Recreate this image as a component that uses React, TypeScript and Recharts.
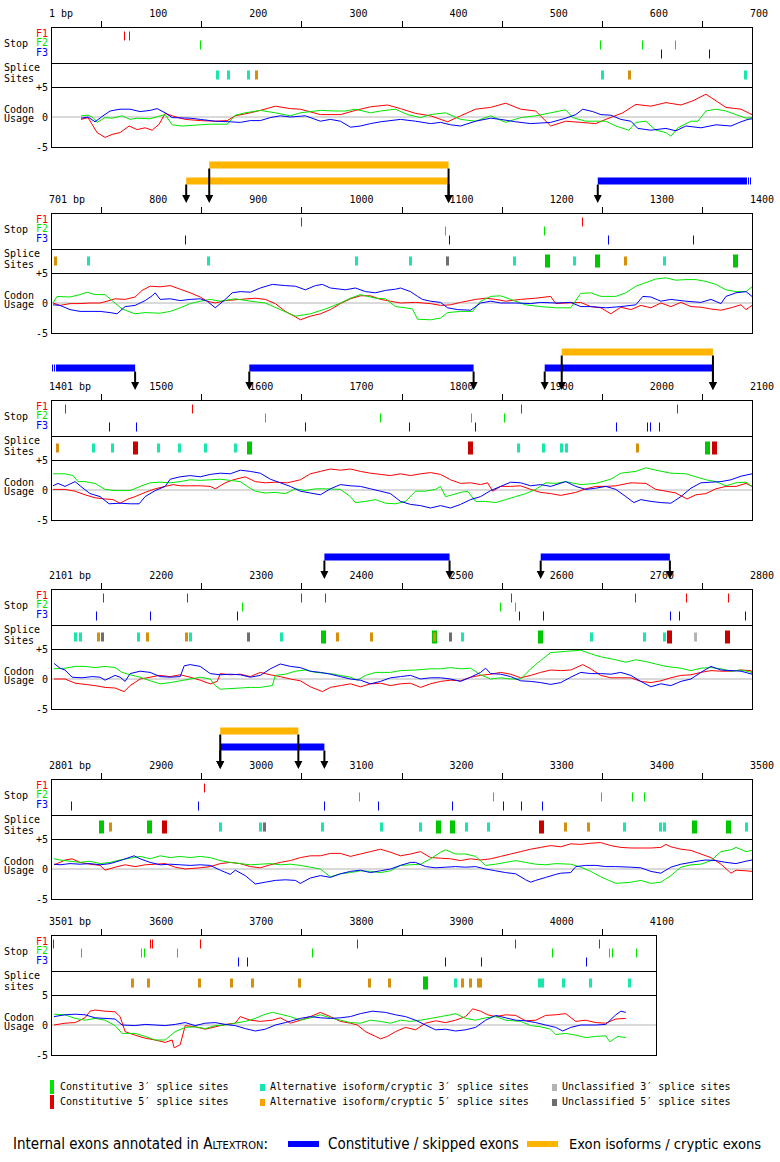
import React from 'react';
import { ComposedChart, Line, Scatter, XAxis, YAxis, ReferenceLine, ReferenceArea } from 'recharts';

const MONO = '"DejaVu Sans Mono", "Liberation Mono", monospace';

// ---------- stop codons (bp), per reading frame ----------
const p1StopF1 = [73, 78];
const p1StopF2 = [149, 548, 590, 623];
const p1StopF3 = [609, 657];
const p2StopF1 = [950, 1230];
const p2StopF2 = [1093, 1192];
const p2StopF3 = [834, 1097, 1256, 1341];
const p3StopF1 = [1414, 1541, 1869, 2025];
const p3StopF2 = [1614, 1729, 1819, 1852];
const p3StopF3 = [1458, 1485, 1654, 1757, 1823, 1964, 1995, 1998, 2007];
const p4StopF1 = [2152, 2236, 2350, 2374, 2559, 2683, 2734, 2776];
const p4StopF2 = [2291, 2548, 2563];
const p4StopF3 = [2145, 2199, 2286, 2567, 2591, 2718, 2727, 2793];
const p5StopF1 = [2953];
const p5StopF2 = [3108, 3241, 3349, 3380, 3392];
const p5StopF3 = [2820, 2947, 3073, 3127, 3200, 3251, 3269, 3290];
const p6StopF1 = [3502, 3599, 3601, 3649, 3806, 3963, 4047];
const p6StopF2 = [3530, 3590, 3593, 3626, 3761, 4000, 4057, 4060, 4084];
const p6StopF3 = [3687, 3696, 3893, 3929, 4034];

// ---------- splice sites [bp, type] ----------
// c3/c5 constitutive, a3/a5 alternative isoform/cryptic, u3/u5 unclassified
const p1Splice = [[166, 'a3'], [177, 'a3'], [197, 'a3'], [205, 'a5'], [550, 'a3'], [577, 'a5'], [693, 'a3']];
const p2Splice = [[704, 'a5'], [737, 'a3'], [857, 'a3'], [1005, 'a3'], [1058, 'a3'], [1095, 'u5'], [1162, 'a3'], [1195, 'c3'], [1222, 'a3'], [1245, 'c3'], [1273, 'a5'], [1312, 'a3'], [1383, 'c3']];
const p3Splice = [[1406, 'a5'], [1442, 'a3'], [1461, 'a3'], [1484, 'c5'], [1507, 'a3'], [1528, 'a3'], [1554, 'a3'], [1584, 'a3'], [1598, 'c3'], [1818, 'c5'], [1866, 'a3'], [1891, 'a3'], [1909, 'a3'], [1914, 'a3'], [1985, 'a5'], [2055, 'c3'], [2062, 'c5']];
const p4Splice = [[2124, 'a3'], [2129, 'a3'], [2147, 'a5'], [2151, 'u5'], [2187, 'a3'], [2196, 'a5'], [2235, 'a5'], [2239, 'a3'], [2297, 'u5'], [2330, 'a3'], [2372, 'c3'], [2386, 'a5'], [2420, 'a5'], [2482, 'c3'], [2482, 'a5'], [2498, 'u5'], [2510, 'a3'], [2588, 'c3'], [2639, 'a3'], [2692, 'a3'], [2712, 'a3'], [2717, 'c5'], [2743, 'u3'], [2775, 'c5']];
const p5Splice = [[2850, 'c3'], [2859, 'a5'], [2898, 'c3'], [2913, 'c5'], [2969, 'a3'], [3009, 'a3'], [3013, 'u5'], [3071, 'a3'], [3130, 'a3'], [3168, 'a3'], [3186, 'c3'], [3200, 'c3'], [3214, 'a3'], [3236, 'a3'], [3289, 'c5'], [3313, 'a5'], [3336, 'a5'], [3372, 'a3'], [3408, 'a3'], [3412, 'a3'], [3442, 'c3'], [3476, 'c3'], [3494, 'a3']];
const p6Splice = [[3581, 'a5'], [3597, 'a5'], [3648, 'a5'], [3680, 'a5'], [3701, 'a5'], [3748, 'a5'], [3818, 'a5'], [3838, 'a5'], [3873, 'c3'], [3903, 'a3'], [3910, 'a5'], [3918, 'a5'], [3926, 'a5'], [3928, 'a5'], [3987, 'a3'], [3990, 'a3'], [4011, 'a3'], [4038, 'a3'], [4077, 'a3']];

// ---------- internal exons [from, to, kind, row, continued] ----------
const p2Exons = [[858, 1097, 'iso', 2, ''], [835, 1097, 'iso', 1, ''], [1246, 1400, 'const', 1, 'R']];
const p3Exons = [[1400, 1484, 'const', 1, 'L'], [1598, 1822, 'const', 1, ''], [1893, 2061, 'const', 1, ''], [1910, 2061, 'iso', 2, '']];
const p4Exons = [[2373, 2498, 'const', 1, ''], [2589, 2718, 'const', 1, '']];
const p5Exons = [[2969, 3047, 'iso', 2, ''], [2969, 3073, 'const', 1, '']];

// ---------- codon usage [bp, score] ----------
const p1Red = [[30,-0.4],[37,-0.1],[46,-2.6],[54,-3.4],[61,-2.9],[69,-2.6],[78,-1.5],[86,-2.1],[94,-1.8],[101,-2.2],[108,-1.2],[114,0.6],[121,0.2],[134,-0.4],[149,-0.6],[164,-0.7],[176,-0.6],[184,0.2],[199,0.7],[209,1.1],[224,1.8],[239,1.4],[249,1.3],[269,0.4],[289,0.4],[304,1.1],[319,1.7],[336,2.0],[349,1.4],[364,0.6],[379,0.2],[396,-0.8],[409,0.2],[424,1.3],[439,1.6],[454,2.3],[469,1.3],[484,1.0],[499,-1.5],[514,-0.7],[529,-0.9],[544,-1.1],[554,-0.4],[571,0.7],[584,2.1],[599,1.8],[614,2.4],[629,2.0],[641,2.7],[654,3.8],[664,2.7],[674,1.6],[689,1.3],[700,0.4]];
const p1Green = [[30,0.2],[37,0.3],[42,-0.1],[46,-0.9],[54,-0.1],[61,-0.2],[71,0.2],[79,-0.4],[86,-0.2],[99,-0.3],[109,0.2],[114,0.4],[121,-1.3],[131,-1.5],[149,-1.3],[159,-1.2],[176,-1.2],[184,0.3],[194,0.7],[209,1.1],[224,0.7],[239,0.2],[249,0.7],[269,1.1],[284,1.0],[294,1.0],[304,1.3],[319,0.7],[329,1.0],[344,1.3],[356,0.4],[369,-0.1],[379,0.4],[394,0.7],[409,-0.4],[424,-0.7],[439,0.2],[454,-0.9],[469,-0.1],[484,0.2],[499,0.7],[514,1.2],[521,-0.1],[534,-0.7],[554,-0.7],[564,-1.5],[577,-2.2],[584,-0.9],[594,-0.7],[604,-2.2],[614,-2.6],[619,-3.2],[626,-1.8],[639,-0.7],[646,-0.7],[654,1.0],[664,1.3],[674,1.0],[684,0.4],[694,-0.2],[700,-0.1]];
const p1Blue = [[30,-0.2],[37,0],[44,-0.8],[52,0.2],[59,1.0],[69,1.3],[79,1.3],[89,0.9],[99,1.1],[106,1.4],[114,0.7],[121,-0.1],[139,-0.2],[149,-0.4],[164,-0.7],[179,-0.8],[189,-0.9],[199,-0.6],[209,-0.6],[219,-0.1],[229,0.2],[239,0],[254,0.2],[269,-0.7],[279,-0.4],[289,-0.7],[299,-1.7],[309,-1.5],[319,-1.1],[329,-0.8],[349,-0.4],[364,-0.7],[379,-1.1],[389,-0.9],[399,-1.3],[409,-1.5],[424,-0.7],[439,-0.2],[449,-0.4],[464,-0.8],[479,-1.1],[499,-0.9],[514,-0.2],[524,0.4],[531,1.3],[541,0.9],[549,0.4],[559,0.3],[569,-0.4],[579,-0.7],[586,-1.9],[599,-2.2],[614,-1.9],[624,-2.3],[634,-1.5],[649,-1.8],[664,-1.3],[679,-1.5],[689,-0.8],[696,-0.4],[700,-0.3]];

const p2Red = [[702,0],[709,-0.4],[719,-0.1],[729,-0.1],[739,0],[749,0],[756,0.3],[764,0.7],[774,0.6],[784,1.0],[791,2.1],[799,2.8],[809,2.7],[819,2.9],[829,2.3],[839,1.7],[849,1.0],[856,0.3],[864,0],[874,0.4],[889,0.6],[904,0.8],[914,0.6],[924,-0.1],[934,-1.4],[944,-2.3],[949,-2.8],[959,-2.2],[969,-1.8],[979,-1.1],[989,-0.1],[999,0.7],[1009,1.2],[1019,1.2],[1029,0.6],[1039,0.3],[1049,0],[1064,0.1],[1079,-0.1],[1089,-0.4],[1099,-0.3],[1109,0.1],[1124,0.6],[1134,0.8],[1144,0.6],[1154,0.3],[1169,0.6],[1184,0.8],[1199,1.1],[1204,-0.1],[1214,0],[1229,0.1],[1239,-0.6],[1249,-0.8],[1259,-1.8],[1269,-0.7],[1279,-1.1],[1289,-0.4],[1299,-0.8],[1309,0],[1319,-0.6],[1329,0.1],[1339,-0.6],[1349,-0.7],[1359,-1.0],[1369,-1.2],[1379,-0.8],[1389,-0.3],[1394,-1.1],[1400,-0.4]];
const p2Green = [[702,0],[706,1.1],[719,1.0],[729,1.4],[736,1.8],[744,1.4],[754,1.4],[761,0.4],[771,-1.0],[784,-1.8],[794,-1.6],[809,-1.7],[819,-1.4],[829,-0.8],[839,-0.1],[849,0.3],[859,0.6],[869,0.3],[884,0.7],[899,0.3],[914,0],[929,-1.1],[944,-2.2],[959,-1.8],[974,-1.0],[989,0],[999,0.8],[1009,1.4],[1024,0.8],[1034,0.7],[1044,-0.6],[1054,-0.8],[1061,-1.0],[1066,-2.7],[1079,-2.8],[1089,-2.5],[1096,-1.6],[1109,-1.4],[1121,-1.4],[1129,0.3],[1139,1.1],[1149,1.2],[1159,0.6],[1174,-0.3],[1189,-0.6],[1204,-0.8],[1219,-0.8],[1229,1.6],[1239,1.7],[1249,1.1],[1264,1.1],[1274,1.7],[1284,2.8],[1294,3.4],[1304,4.0],[1314,4.2],[1324,3.8],[1334,3.9],[1344,3.9],[1354,3.6],[1364,3.1],[1374,2.2],[1384,1.9],[1394,1.9],[1400,2.7]];
const p2Blue = [[702,-0.3],[709,-0.4],[719,-1.1],[729,-1.4],[739,-1.4],[749,-1.4],[759,-1.6],[766,-1.8],[774,-0.6],[784,-0.4],[794,0.4],[801,1.2],[804,1.7],[809,0.6],[819,0.7],[829,0.4],[839,0.6],[849,0.7],[856,0.3],[864,-0.8],[874,0.6],[881,1.7],[889,1.9],[899,1.8],[909,2.5],[921,3.1],[934,2.9],[944,2.8],[954,2.2],[964,2.9],[971,3.1],[979,2.5],[994,2.2],[1004,2.5],[1014,1.9],[1024,1.7],[1034,2.1],[1044,2.3],[1049,2.5],[1059,1.9],[1066,1.1],[1071,0.6],[1079,0.3],[1089,0.1],[1096,-0.8],[1106,-1.1],[1119,-1.2],[1129,0],[1139,0.3],[1149,0],[1164,0],[1179,-0.1],[1189,0.1],[1204,0],[1219,0.1],[1229,-0.6],[1239,-0.6],[1254,-0.8],[1269,-0.6],[1284,-0.3],[1291,1.1],[1299,1.0],[1309,0.3],[1319,0.6],[1334,0.3],[1349,0.1],[1359,0.6],[1369,-0.1],[1374,1.1],[1384,1.7],[1394,1.9],[1400,1.1]];

const p3Red = [[1402,0.1],[1414,0.1],[1424,-0.2],[1434,-0.8],[1444,-1.3],[1454,-1.5],[1462,-1.6],[1469,-2.2],[1477,-1.5],[1484,-1.1],[1494,-0.4],[1504,0.2],[1514,0.6],[1522,0.9],[1529,0.7],[1539,0.7],[1549,0.7],[1559,0.6],[1564,0.2],[1574,1.2],[1582,1.7],[1594,2.2],[1604,1.4],[1614,1.2],[1624,1.3],[1636,1.2],[1649,1.7],[1659,2.7],[1669,3.1],[1679,3.5],[1689,3.3],[1699,3.5],[1709,3.1],[1719,2.8],[1729,2.6],[1739,2.4],[1749,2.7],[1759,2.4],[1769,2.7],[1779,2.9],[1789,2.6],[1799,1.7],[1809,1.1],[1819,1.2],[1829,0.9],[1836,1.2],[1841,-0.2],[1849,0.6],[1859,0.6],[1869,0.7],[1879,0.1],[1889,-0.4],[1899,-0.6],[1909,-0.9],[1924,-0.4],[1934,0.2],[1944,0.6],[1954,0.6],[1964,0.7],[1979,1.2],[1994,1.1],[2004,0.1],[2014,-0.2],[2024,-0.5],[2035,-1.5],[2044,-0.8],[2054,-0.6],[2064,0.2],[2074,0.6],[2084,0.6],[2094,1.1],[2100,0.6]];
const p3Green = [[1402,2.7],[1414,2.7],[1422,2.4],[1427,1.4],[1434,1.4],[1444,1.1],[1454,0.1],[1464,-0.1],[1479,-0.1],[1489,0.6],[1499,1.2],[1509,1.3],[1519,1.2],[1529,1.4],[1539,1.7],[1549,1.6],[1559,1.7],[1569,1.8],[1579,1.6],[1589,1.4],[1596,0.6],[1604,-0.2],[1614,-0.5],[1624,-0.4],[1634,-0.6],[1644,0.2],[1654,-0.1],[1664,0.2],[1674,0.2],[1689,0.1],[1699,-1.1],[1704,-2.1],[1714,-1.9],[1724,-1.6],[1734,-2.2],[1744,-2.3],[1754,-1.9],[1764,-0.2],[1774,-0.2],[1784,0.1],[1789,0.6],[1794,-1.1],[1801,-0.8],[1809,-0.4],[1816,-0.2],[1824,-1.9],[1834,-1.9],[1844,-2.1],[1854,-1.6],[1864,-1.1],[1874,-0.6],[1884,0.1],[1894,1.2],[1904,1.1],[1914,1.4],[1929,0.9],[1944,1.1],[1959,1.8],[1969,2.8],[1984,3.1],[1994,3.7],[2004,3.3],[2019,2.8],[2034,2.7],[2044,2.2],[2054,1.7],[2064,1.4],[2074,0.7],[2084,1.2],[2094,1.3],[2100,0.6]];
const p3Blue = [[1402,0.7],[1407,1.1],[1414,0.6],[1424,1.4],[1432,0.3],[1439,-0.6],[1449,-1.1],[1458,-2.3],[1469,-2.2],[1479,-2.3],[1488,-2.3],[1494,-1.1],[1504,-0.1],[1514,0.6],[1519,1.8],[1529,2.2],[1539,2.4],[1549,2.2],[1559,2.6],[1569,2.8],[1579,2.7],[1589,3.3],[1599,3.1],[1609,2.8],[1619,1.8],[1629,1.2],[1639,0.6],[1649,-0.2],[1659,-0.5],[1669,-0.8],[1679,0.2],[1689,0.9],[1699,0.7],[1709,0.6],[1719,0.2],[1729,-0.2],[1739,-0.6],[1749,-1.9],[1759,-2.4],[1769,-2.6],[1779,-3.0],[1789,-2.6],[1799,-3.0],[1809,-2.4],[1819,-1.6],[1829,-1.1],[1839,-0.1],[1849,0.6],[1859,1.3],[1869,1.2],[1879,0.7],[1889,0.9],[1899,0.6],[1914,1.4],[1924,0.6],[1934,0.1],[1944,0.3],[1954,0.6],[1964,0.1],[1974,-1.1],[1982,-2.1],[1989,-1.6],[1999,-1.9],[2009,-2.1],[2019,-2.2],[2029,-1.1],[2039,0.3],[2049,1.2],[2059,1.3],[2069,1.4],[2079,1.7],[2089,2.3],[2100,2.7]];

const p4Red = [[2103,0],[2114,0],[2124,-0.7],[2134,-0.9],[2144,-1.1],[2154,-1.4],[2164,-1.5],[2173,-2.1],[2179,-1.1],[2189,0],[2199,0.3],[2208,0.6],[2219,0.4],[2229,0.7],[2239,0.3],[2249,-0.2],[2259,-0.8],[2266,-0.4],[2269,0.9],[2279,0.7],[2289,0.8],[2299,0.4],[2309,1.1],[2319,0.7],[2329,0.4],[2339,0],[2349,-0.3],[2359,-1.3],[2371,-2.1],[2379,-1.4],[2389,-1.1],[2399,-0.8],[2409,-1.3],[2419,-0.8],[2429,-0.7],[2439,-1.1],[2449,-0.8],[2459,-0.7],[2469,-1.4],[2479,-0.8],[2489,-0.4],[2499,-0.2],[2509,-0.3],[2519,0.3],[2529,0.6],[2539,0.8],[2549,1.1],[2559,0.8],[2569,0.2],[2579,0.6],[2589,1.1],[2599,1.5],[2609,1.4],[2619,1.5],[2631,2.4],[2639,1.7],[2649,0.6],[2659,0.2],[2669,0.2],[2679,0.2],[2689,-0.4],[2699,-0.6],[2709,-0.3],[2719,0.2],[2729,0.6],[2739,0.7],[2749,1.1],[2759,1.4],[2769,1.3],[2779,1.3],[2789,1.5],[2799,1.4],[2800,0.9]];
const p4Green = [[2103,1.7],[2114,1.8],[2124,2.1],[2134,2.1],[2144,1.9],[2154,2.1],[2164,1.9],[2171,1.1],[2179,0.7],[2189,0.3],[2199,-0.3],[2209,-0.8],[2219,-0.6],[2229,-0.3],[2239,0],[2249,0.3],[2259,0],[2264,-1.1],[2269,-1.7],[2289,-1.5],[2299,-1.4],[2309,-1.4],[2321,-1.1],[2324,0.6],[2334,0.8],[2344,1.3],[2354,1.5],[2364,1.1],[2379,0.9],[2389,0.6],[2399,0.3],[2406,-0.2],[2414,0.6],[2424,1.1],[2439,1.1],[2449,1.4],[2464,1.5],[2479,1.7],[2489,1.7],[2499,1.9],[2509,1.7],[2519,1.8],[2529,0.7],[2539,0],[2549,0.2],[2559,0],[2569,0],[2579,1.7],[2589,3.1],[2599,4.4],[2614,4.6],[2629,4.8],[2639,4.2],[2649,3.7],[2664,3.2],[2674,2.8],[2684,3.2],[2694,2.9],[2704,2.5],[2714,2.1],[2729,1.8],[2739,1.4],[2749,1.8],[2759,1.9],[2769,1.7],[2779,1.3],[2789,1.5],[2800,1.1]];
const p4Blue = [[2103,2.6],[2109,1.8],[2114,1.5],[2121,0.3],[2131,0.2],[2141,0.4],[2149,0.3],[2154,-0.2],[2164,0.6],[2169,0.3],[2174,-0.4],[2179,0.9],[2189,1.3],[2199,1.1],[2209,0.4],[2219,0.3],[2229,0.4],[2233,2.2],[2239,2.4],[2249,2.1],[2259,0.9],[2269,0.7],[2279,0.8],[2289,0.7],[2299,0.3],[2309,0.6],[2319,1.7],[2329,2.5],[2339,2.1],[2349,1.9],[2359,1.3],[2369,1.1],[2379,0.8],[2389,0.4],[2399,0],[2409,-0.2],[2419,-0.8],[2429,-0.4],[2439,0.2],[2449,0.4],[2459,0.6],[2469,0],[2479,0.2],[2489,0.2],[2499,0],[2509,-0.4],[2519,0.3],[2529,1.1],[2534,1.8],[2539,0.9],[2549,0.8],[2559,0.4],[2569,-0.3],[2579,-0.4],[2589,-0.6],[2599,-0.9],[2609,-0.6],[2619,0.3],[2629,1.1],[2639,0.9],[2649,0.9],[2659,0.8],[2669,1.1],[2679,0.6],[2689,-0.4],[2699,-1.3],[2709,-0.8],[2719,-1.1],[2729,-0.4],[2739,0],[2749,1.1],[2759,2.1],[2769,1.5],[2779,1.4],[2789,1.3],[2800,0.8]];

const p5Red = [[2803,0.7],[2809,1.1],[2814,1.5],[2821,1.7],[2829,1.1],[2839,0.8],[2849,0.6],[2854,-0.2],[2864,0.3],[2874,0.7],[2884,0.4],[2894,0.7],[2904,0.8],[2914,0.9],[2924,0.3],[2934,0],[2949,0.2],[2959,0.4],[2969,0.9],[2979,1.1],[2989,0.9],[2999,0.4],[3009,0.2],[3019,0.7],[3029,1.1],[3039,1.4],[3049,1.9],[3059,2.2],[3069,2.2],[3079,2.6],[3089,2.6],[3099,2.1],[3109,2.5],[3119,2.9],[3129,3.3],[3139,2.8],[3149,2.2],[3159,2.5],[3169,2.9],[3179,1.9],[3189,1.8],[3199,1.7],[3209,1.4],[3219,1.7],[3229,1.5],[3239,1.7],[3249,2.1],[3259,2.5],[3269,2.9],[3279,3.3],[3289,3.6],[3299,3.9],[3309,3.7],[3319,4.2],[3329,4.1],[3339,4.3],[3349,4.4],[3359,3.9],[3369,3.6],[3379,3.5],[3389,3.5],[3399,3.5],[3409,3.6],[3414,4.1],[3419,3.7],[3429,3.3],[3439,3.1],[3449,2.5],[3459,1.9],[3469,0.8],[3479,-0.7],[3484,-0.2],[3494,-0.3],[3500,-0.4]];
const p5Green = [[2803,1.7],[2809,1.5],[2819,1.3],[2829,1.1],[2839,1.3],[2849,0.9],[2859,1.1],[2869,1.5],[2879,1.8],[2889,2.1],[2899,1.7],[2909,2.2],[2919,1.9],[2929,2.1],[2939,1.9],[2949,2.1],[2959,1.9],[2969,1.4],[2979,1.1],[2989,0.9],[2999,0.7],[3009,0.8],[3019,0.9],[3029,0.7],[3039,0.8],[3049,0.6],[3059,0.3],[3069,0],[3079,-1.3],[3089,-0.8],[3099,-0.6],[3109,-0.3],[3119,-0.4],[3129,-0.6],[3139,-0.3],[3149,0.6],[3159,0.7],[3169,0.8],[3179,1.7],[3189,2.8],[3194,3.2],[3204,2.5],[3214,2.5],[3224,2.1],[3234,0.6],[3244,0.8],[3254,1.1],[3264,1.4],[3274,1.1],[3284,0.8],[3294,0.7],[3304,0.9],[3319,0.8],[3329,0.3],[3339,-0.4],[3349,-1.3],[3364,-2.4],[3379,-2.2],[3389,-1.9],[3399,-2.4],[3409,-2.2],[3419,-1.1],[3429,0.3],[3439,0.7],[3449,0.8],[3459,1.4],[3469,2.9],[3479,3.2],[3484,3.6],[3494,2.9],[3500,3.1]];
const p5Blue = [[2803,0.8],[2809,0.7],[2819,0.9],[2829,0.8],[2839,0.9],[2849,0.7],[2859,0.9],[2869,1.4],[2883,2.2],[2889,1.7],[2899,1.1],[2909,0.7],[2919,0.8],[2929,0.7],[2939,0.6],[2949,0.7],[2959,0.6],[2969,-0.2],[2979,-0.9],[2984,-0.2],[2994,-1.1],[3004,-2.5],[3014,-2.2],[3024,-1.9],[3034,-1.8],[3044,-1.9],[3049,-2.4],[3059,-1.5],[3069,-1.1],[3079,-1.4],[3089,-0.8],[3099,-0.4],[3109,-0.2],[3119,-0.6],[3129,-0.3],[3139,0],[3149,0.6],[3159,1.1],[3164,1.1],[3174,0.4],[3184,0.2],[3194,0.3],[3204,0.4],[3214,0.3],[3224,0.4],[3234,0],[3244,-0.3],[3254,-0.6],[3264,-0.8],[3274,-1.8],[3279,-2.2],[3284,-1.9],[3294,-1.4],[3304,-0.9],[3309,-0.7],[3319,-0.6],[3324,0.4],[3334,0.6],[3344,0.6],[3354,0.4],[3364,0.4],[3379,0.3],[3389,0.2],[3399,-0.4],[3409,-0.7],[3419,0.3],[3429,0.8],[3439,1.1],[3449,1.4],[3454,1.5],[3464,1.4],[3474,1.1],[3484,0.9],[3494,1.3],[3500,1.5]];

const p6Red = [[3503,0],[3514,0.3],[3524,0.4],[3534,1.2],[3539,2.3],[3544,2.5],[3554,2.3],[3564,2.2],[3569,1.4],[3574,-1.1],[3584,-1.7],[3594,-2.2],[3604,-2.5],[3614,-2.9],[3621,-2.5],[3623,-3.8],[3629,-3.3],[3634,-0.1],[3644,-0.3],[3654,-0.7],[3664,-0.3],[3674,0.1],[3684,0.3],[3689,1.4],[3699,0.8],[3709,0.6],[3721,0.8],[3729,1.2],[3739,0.3],[3749,0.8],[3759,1.4],[3769,2.1],[3779,1.4],[3789,0.6],[3799,0.3],[3806,0],[3814,-1.1],[3824,-1.9],[3829,-2.3],[3836,-1.9],[3844,-1.1],[3854,-0.4],[3864,-0.8],[3874,0.3],[3884,0.7],[3894,0.4],[3904,0.8],[3914,1.4],[3921,2.7],[3929,2.3],[3936,1.7],[3944,1.4],[3954,1.7],[3964,1.6],[3974,0.7],[3984,0.8],[3994,1.6],[4004,1.7],[4014,1.9],[4024,0.6],[4034,0.8],[4044,0.4],[4054,0.3],[4064,1.0],[4074,1.1]];
const p6Green = [[3503,1.8],[3514,1.7],[3524,1.1],[3534,0.8],[3544,1.1],[3554,0.8],[3564,-0.1],[3571,-1.4],[3584,-1.4],[3594,-1.9],[3604,-2.5],[3614,-2.5],[3624,-1.1],[3634,-0.4],[3644,-0.3],[3654,-0.6],[3664,-0.1],[3674,0],[3684,0.3],[3694,0.6],[3704,1.1],[3714,1.8],[3721,2.1],[3729,1.8],[3739,1.4],[3749,0.8],[3759,1.2],[3769,1.7],[3779,1.2],[3789,0.8],[3799,0.4],[3809,0.3],[3819,0.8],[3829,0.6],[3839,0.3],[3849,0.8],[3859,0.6],[3869,0.8],[3879,1.1],[3889,1.4],[3899,1.7],[3904,1.9],[3914,1.1],[3924,0.8],[3934,1.2],[3944,1.4],[3954,0.8],[3969,0.6],[3979,-0.1],[3989,-0.3],[3999,-0.7],[4004,-1.6],[4014,-1.4],[4024,-1.7],[4034,-2.1],[4044,-1.9],[4054,-1.8],[4058,-2.8],[4066,-1.9],[4074,-2.1]];
const p6Blue = [[3503,1.4],[3514,1.7],[3524,1.8],[3534,1.7],[3544,1.2],[3554,1.1],[3564,1.0],[3571,0],[3584,-0.1],[3594,0.1],[3604,0],[3614,-0.1],[3624,0.1],[3634,0.4],[3644,-0.1],[3654,0.3],[3664,0.4],[3674,0.1],[3684,-0.1],[3694,-0.6],[3704,-1.0],[3714,-0.7],[3724,0],[3734,0.4],[3749,1.1],[3759,1.4],[3769,1.2],[3779,1.1],[3789,1.2],[3799,1.4],[3809,1.9],[3821,2.3],[3834,2.1],[3844,1.7],[3854,1.4],[3864,0.8],[3874,0],[3884,-0.8],[3894,-0.7],[3904,-1.0],[3914,-0.8],[3924,-0.4],[3934,0.8],[3944,1.6],[3954,1.2],[3964,0.8],[3974,0.7],[3984,0.4],[3994,0],[4004,-0.4],[4011,-1.0],[4019,-0.4],[4029,0],[4044,0],[4054,0.1],[4064,1.7],[4069,2.3],[4074,2.1]];

// ---------- layout ----------
const panels = [
  { id: 1, start: 0, end: 700, top: 27, stops: [p1StopF1, p1StopF2, p1StopF3], splice: p1Splice, exons: [], codon: [p1Red, p1Green, p1Blue] },
  { id: 2, start: 700, end: 1400, top: 213, stops: [p2StopF1, p2StopF2, p2StopF3], splice: p2Splice, exons: p2Exons, codon: [p2Red, p2Green, p2Blue] },
  { id: 3, start: 1400, end: 2100, top: 400, stops: [p3StopF1, p3StopF2, p3StopF3], splice: p3Splice, exons: p3Exons, codon: [p3Red, p3Green, p3Blue] },
  { id: 4, start: 2100, end: 2800, top: 589, stops: [p4StopF1, p4StopF2, p4StopF3], splice: p4Splice, exons: p4Exons, codon: [p4Red, p4Green, p4Blue] },
  { id: 5, start: 2800, end: 3500, top: 779, stops: [p5StopF1, p5StopF2, p5StopF3], splice: p5Splice, exons: p5Exons, codon: [p5Red, p5Green, p5Blue] },
  { id: 6, start: 3500, end: 4104, top: 935, stops: [p6StopF1, p6StopF2, p6StopF3], splice: p6Splice, exons: [], codon: [p6Red, p6Green, p6Blue], last: true },
];

const LEFT = 51;
const PAGE_W = 780;
const FRAME_COLORS = ['#ff0000', '#00e600', '#0000ff'];
const LINE_COLORS = ['#ff0000', '#00e600', '#0000ff'];
const SPLICE_STYLE: any = {
  c3: { fill: '#00c800', w: 5, h: 13 },
  c5: { fill: '#c80000', w: 5, h: 13 },
  a3: { fill: '#19e6aa', w: 3, h: 9 },
  a5: { fill: '#d78f0a', w: 3, h: 9 },
  u3: { fill: '#b4b4b4', w: 3, h: 9 },
  u5: { fill: '#6e6e6e', w: 3, h: 9 },
};
const EXON_COLORS: any = { const: '#0000ff', iso: '#ffb400' };
const ROW_Y: any = { 1: 32, 2: 48 };

const AxisTick = (props: any) => {
  const { x, y, payload, start } = props;
  const v = payload.value;
  if ((v - start) % 100 !== 0) {
    const xx = Math.round(x) + 0.5;
    return <line x1={xx} x2={xx} y1={y + 3} y2={y + 9} stroke="#000" strokeWidth={1} />;
  }
  const label = v === start ? `${v + 1} bp` : String(v);
  const w = label.length * 6.02;
  const left = Math.min(x - 2, 776 - w);
  return (
    <text x={left} y={y - 1} fontFamily={MONO} fontSize={10} fill="#000" textAnchor="start">
      {label}
    </text>
  );
};

const StopMark = (color: string) => (props: any) => {
  const xx = Math.round(props.cx) + 0.5;
  return <line x1={xx} x2={xx} y1={props.cy - 4.5} y2={props.cy + 4.5} stroke={color} strokeWidth={1} />;
};

const SpliceMark = (props: any) => {
  const s = SPLICE_STYLE[props.payload.t];
  return <rect x={Math.round(props.cx) - Math.floor(s.w / 2)} y={props.cy - s.h / 2} width={s.w} height={s.h} fill={s.fill} />;
};

const ArrowHead = (props: any) => (
  <polygon points={`${props.cx - 4},${props.cy - 8} ${props.cx + 4},${props.cy - 8} ${props.cx},${props.cy}`} fill="#000" />
);

function Panel({ p }: { p: any }) {
  const plotW = ((p.end - p.start) * 701) / 700;
  const right = PAGE_W - LEFT - plotW;
  const chartW = PAGE_W;
  const T = p.top;
  const ticks: number[] = [];
  for (let v = p.start; v <= p.end; v += 50) ticks.push(v);
  const xAxis = (
    <XAxis type="number" dataKey="x" domain={[p.start, p.end]} allowDataOverflow hide />
  );

  const arrows: any[] = [];
  p.exons.forEach(([from, to, , row, cont]: any) => {
    if (cont !== 'L') arrows.push({ x: from, y: 10, top: ROW_Y[row] - 3.5 });
    if (cont !== 'R') arrows.push({ x: to, y: 10, top: ROW_Y[row] - 3.5 });
  });

  const label = (text: string, left: number, cy: number, color = '#000') => (
    <div style={{ position: 'absolute', left, top: cy - 6, height: 12, lineHeight: '12px', fontFamily: MONO, fontSize: 10, color, whiteSpace: 'pre' }}>
      {text}
    </div>
  );

  return (
    <>
      {/* stop codons + position axis */}
      <div style={{ position: 'absolute', left: 0, top: T - 22 }}>
        <ComposedChart width={chartW} height={58} margin={{ top: 0, right, bottom: 0, left: LEFT }}>
          <XAxis
            type="number"
            dataKey="x"
            orientation="top"
            domain={[p.start, p.end]}
            allowDataOverflow
            ticks={ticks}
            interval={0}
            height={22}
            tickSize={6}
            tickMargin={3}
            axisLine={false}
            tickLine={false}
            tick={<AxisTick start={p.start} />}
          />
          <YAxis type="number" dataKey="y" domain={[0, 4]} reversed hide />
          {p.stops.map((arr: number[], i: number) => (
            <Scatter
              key={i}
              data={arr.map((x) => ({ x, y: i + 1 }))}
              shape={StopMark(FRAME_COLORS[i])}
              isAnimationActive={false}
            />
          ))}
        </ComposedChart>
      </div>

      {/* splice sites */}
      <div style={{ position: 'absolute', left: 0, top: T + 36 }}>
        <ComposedChart width={chartW} height={24} margin={{ top: 0, right, bottom: 0, left: LEFT }}>
          {xAxis}
          <YAxis type="number" dataKey="y" domain={[0, 1]} hide />
          <Scatter data={p.splice.map(([x, t]: any) => ({ x, y: 0.5, t }))} shape={SpliceMark} isAnimationActive={false} />
        </ComposedChart>
      </div>

      {/* codon usage */}
      <div style={{ position: 'absolute', left: 0, top: T + 52 }}>
        <ComposedChart width={chartW} height={76} margin={{ top: 8, right, bottom: 8, left: 0 }}>
          {xAxis}
          <YAxis
            type="number"
            domain={[-5, 5]}
            ticks={[5, 0, -5]}
            width={LEFT}
            tickSize={0}
            tickMargin={3}
            axisLine={false}
            tickLine={false}
            tickFormatter={(v: number) => (v > 0 ? (p.last ? '5' : '+5') : String(v))}
            tick={{ fontFamily: MONO, fontSize: 10, fill: '#000' }}
          />
          <ReferenceLine y={0} stroke="#b4b4b4" strokeWidth={1} />
          {p.codon.map((arr: number[][], i: number) => (
            <Line
              key={i}
              data={arr.map(([x, v]) => ({ x, v }))}
              dataKey="v"
              type="linear"
              stroke={LINE_COLORS[i]}
              strokeWidth={1}
              dot={false}
              isAnimationActive={false}
            />
          ))}
        </ComposedChart>
      </div>

      {/* frame */}
      <div style={{ position: 'absolute', left: LEFT, top: T, width: Math.round(plotW) + 1, height: 121, border: '1px solid #000', boxSizing: 'border-box' }} />
      <div style={{ position: 'absolute', left: LEFT, top: T + 36, width: Math.round(plotW) + 1, height: 1, background: '#000' }} />
      <div style={{ position: 'absolute', left: LEFT, top: T + 60, width: Math.round(plotW) + 1, height: 1, background: '#000' }} />

      {/* internal exons */}
      {p.exons.length > 0 && (
        <div style={{ position: 'absolute', left: 0, top: T - 60 }}>
          <ComposedChart width={chartW} height={60} margin={{ top: 0, right, bottom: 0, left: LEFT }}>
            <defs>
              <pattern id={`stripe${p.id}`} width="2" height="8" patternUnits="userSpaceOnUse">
                <rect width="1" height="8" fill="#0000ff" />
              </pattern>
            </defs>
            {xAxis}
            <YAxis type="number" dataKey="y" domain={[0, 60]} allowDataOverflow hide />
            {p.exons.map(([from, to, kind, row, cont]: any, i: number) => {
              const y1 = ROW_Y[row] - 3.5;
              const y2 = ROW_Y[row] + 3.5;
              const solidFrom = cont === 'L' ? from + 5 : from;
              const solidTo = cont === 'R' ? to - 5 : to;
              return (
                <React.Fragment key={i}>
                  <ReferenceArea x1={solidFrom} x2={solidTo} y1={y1} y2={y2} fill={EXON_COLORS[kind]} fillOpacity={1} stroke="none" />
                  {cont === 'L' && <ReferenceArea x1={from} x2={from + 5} y1={y1} y2={y2} fill={`url(#stripe${p.id})`} fillOpacity={1} stroke="none" />}
                  {cont === 'R' && <ReferenceArea x1={to - 5} x2={to} y1={y1} y2={y2} fill={`url(#stripe${p.id})`} fillOpacity={1} stroke="none" />}
                </React.Fragment>
              );
            })}
            {arrows.map((a, i) => (
              <ReferenceLine key={`s${i}`} segment={[{ x: a.x, y: a.top }, { x: a.x, y: 17 }]} stroke="#000" strokeWidth={2} />
            ))}
            <Scatter data={arrows} shape={ArrowHead} isAnimationActive={false} />
          </ComposedChart>
        </div>
      )}

      {/* row labels */}
      {label('Stop', 4, T + 17)}
      {label('F1', 36, T + 7, FRAME_COLORS[0])}
      {label('F2', 36, T + 16, FRAME_COLORS[1])}
      {label('F3', 36, T + 25.5, FRAME_COLORS[2])}
      {label('Splice', 4, T + 41)}
      {label(p.last ? 'sites' : 'Sites', 4, T + 52)}
      {label('Codon', 4, T + 83)}
      {label('Usage', 4, T + 92)}
    </>
  );
}

const legendItems = [
  { color: '#00e600', tall: true, text: 'Constitutive 3′ splice sites', x: 50, row: 0 },
  { color: '#e00000', tall: true, text: 'Constitutive 5′ splice sites', x: 50, row: 1 },
  { color: '#19e6aa', tall: false, text: 'Alternative isoform/cryptic 3′ splice sites', x: 260, row: 0 },
  { color: '#f5a300', tall: false, text: 'Alternative isoform/cryptic 5′ splice sites', x: 260, row: 1 },
  { color: '#b4b4b4', tall: false, text: 'Unclassified 3′ splice sites', x: 552, row: 0 },
  { color: '#6e6e6e', tall: false, text: 'Unclassified 5′ splice sites', x: 552, row: 1 },
];

export default function App() {
  const sans = '"Liberation Sans Narrow", "DejaVu Sans Condensed", "Liberation Sans", sans-serif';
  return (
    <div style={{ position: 'absolute', left: 0, top: 0, width: 780, height: 1162, background: '#fff', overflow: 'hidden' }}>
      {panels.map((p) => (
        <Panel key={p.id} p={p} />
      ))}

      {legendItems.map((it, i) => {
        const cy = it.row === 0 ? 1087 : 1102;
        return (
          <React.Fragment key={i}>
            <div
              style={{
                position: 'absolute',
                left: it.x,
                top: it.tall ? cy - 7 : cy - 3.5,
                width: it.tall ? 4 : 5,
                height: it.tall ? 14 : 7,
                background: it.color,
              }}
            />
            <div style={{ position: 'absolute', left: it.x + 10, top: cy - 6, lineHeight: '12px', fontFamily: MONO, fontSize: 10, whiteSpace: 'pre' }}>
              {it.text}
            </div>
          </React.Fragment>
        );
      })}

      <div style={{ position: 'absolute', left: 13, top: 1135, lineHeight: '18px', fontFamily: sans, fontSize: 15, whiteSpace: 'pre', color: '#000' }}>
        Internal exons annotated in A<span style={{ fontSize: 11 }}>LTEXTRON</span>:
      </div>
      <div style={{ position: 'absolute', left: 288, top: 1141, width: 31, height: 6, background: '#0000ff' }} />
      <div style={{ position: 'absolute', left: 328, top: 1135, lineHeight: '18px', fontFamily: sans, fontSize: 15, whiteSpace: 'pre' }}>
        Constitutive / skipped exons
      </div>
      <div style={{ position: 'absolute', left: 527, top: 1141, width: 31, height: 6, background: '#ffb400' }} />
      <div style={{ position: 'absolute', left: 569, top: 1135, lineHeight: '18px', fontFamily: sans, fontSize: 14.6, whiteSpace: 'pre' }}>
        Exon isoforms / cryptic exons
      </div>
    </div>
  );
}
